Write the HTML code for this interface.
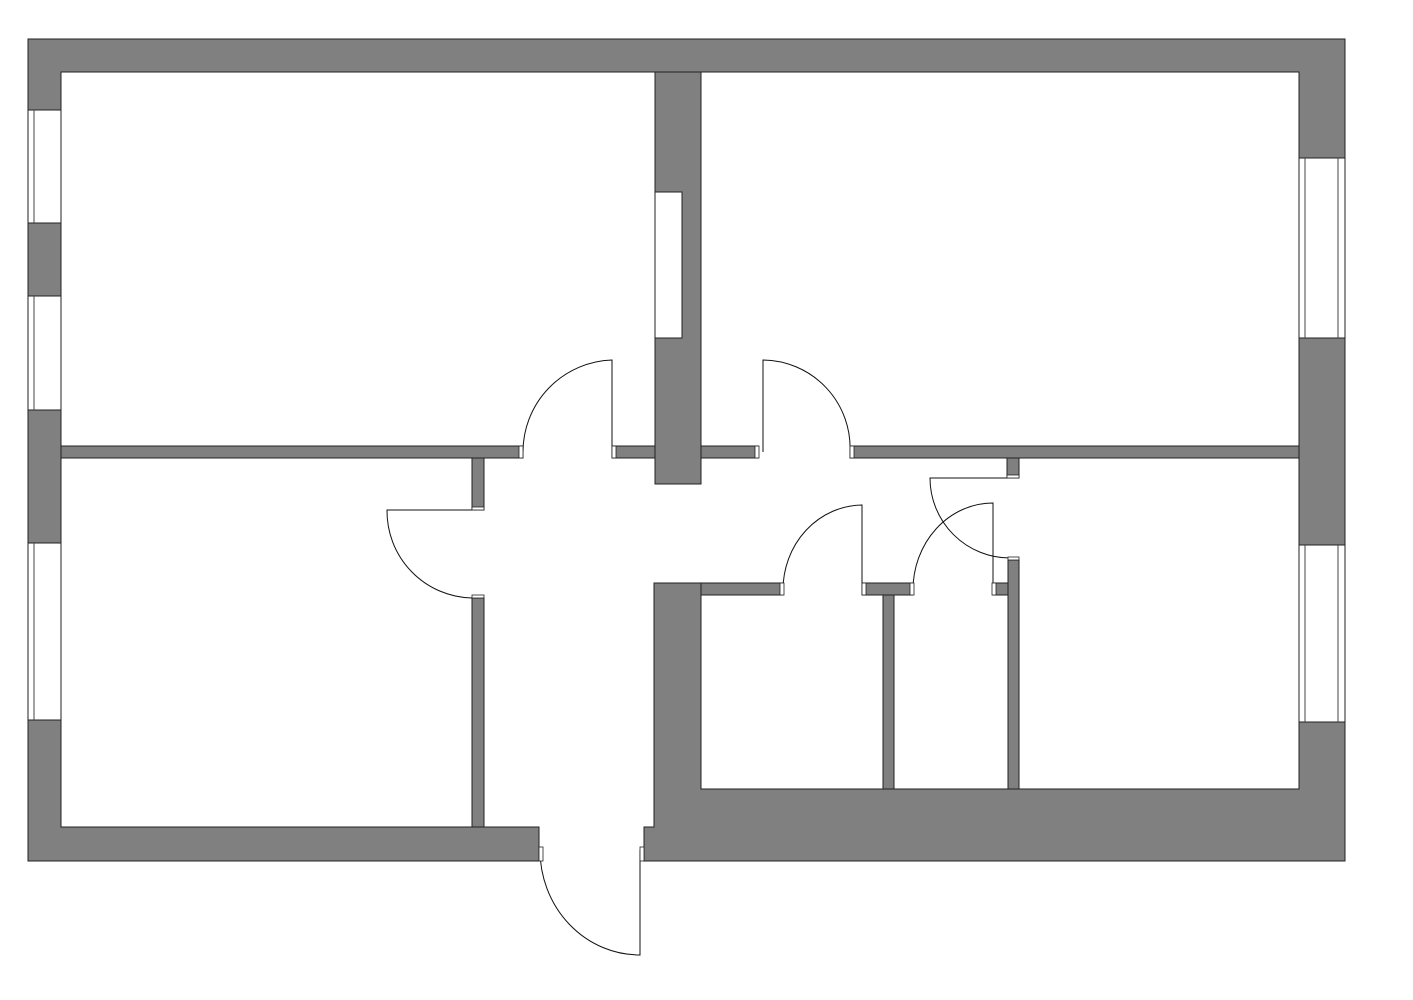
<!DOCTYPE html>
<html><head><meta charset="utf-8"><style>html,body{margin:0;padding:0;background:#fff}svg{display:block}</style></head>
<body>
<svg width="1413" height="1000" viewBox="0 0 1413 1000" xmlns="http://www.w3.org/2000/svg">
<g fill="#808080" stroke="#222" stroke-width="1">
<!-- outer walls -->
<path d="M28,39 H1345 V861 H644 V827 H654 V583 H701 V789 H1299 V72 H701 V446 H655 V72 H61 V827 H539 V861 H28 Z"/>
<!-- central column top -->
<rect x="655" y="72" width="46" height="412"/>
<!-- horizontal interior wall -->
<rect x="61" y="446" width="462" height="12"/>
<rect x="612" y="446" width="43" height="12"/>
<rect x="701" y="446" width="57" height="12"/>
<rect x="850" y="446" width="449" height="12"/>
<!-- left vertical wall -->
<rect x="472" y="458" width="12" height="52"/>
<rect x="472" y="598" width="12" height="229"/>
<!-- small stub right -->
<rect x="1007" y="458" width="12" height="20"/>
<!-- lower block walls -->
<rect x="701" y="583" width="82" height="12"/>
<rect x="862" y="583" width="51" height="12"/>
<rect x="993" y="583" width="26" height="12"/>
<rect x="1008" y="560" width="11" height="229"/>
<rect x="883" y="595" width="11" height="194"/>
</g>
<!-- windows left -->
<g fill="#fff" stroke="#222" stroke-width="1">
<rect x="28" y="110" width="33" height="113"/>
<rect x="28" y="296" width="33" height="114"/>
<rect x="28" y="543" width="33" height="177"/>
<rect x="1299" y="158" width="46" height="180"/>
<rect x="1299" y="545" width="46" height="177"/>
<rect x="655" y="192" width="27" height="146"/>
</g>
<g stroke="#444" stroke-width="1" fill="none">
<line x1="34" y1="110" x2="34" y2="223"/><line x1="34" y1="296" x2="34" y2="410"/><line x1="34" y1="543" x2="34" y2="720"/>
<line x1="1338" y1="158" x2="1338" y2="338"/><line x1="1338" y1="545" x2="1338" y2="722"/>
<line x1="1305" y1="158" x2="1305" y2="338"/><line x1="1305" y1="545" x2="1305" y2="722"/>
</g>
<!-- doors -->
<g stroke="#111" stroke-width="1" fill="none">
<path d="M612,452 V360 A92,92 0 0 0 523,452"/>
<path d="M763,452 V360 A88,88 0 0 1 850,452"/>
<path d="M472,510 H387 A87,87 0 0 0 472,598"/>
<path d="M1010,478 H930 A80,80 0 0 0 1010,558"/>
<path d="M862,590 V505 A80,85 0 0 0 783,590"/>
<path d="M993,590 V503 A80,87 0 0 0 913,590"/>
<path d="M640,850 V955 A100,105 0 0 1 540,850"/>
</g>
<g fill="#fff" stroke="#222" stroke-width="0.8">
<rect x="519" y="446" width="4" height="12"/><rect x="612" y="446" width="4" height="12"/>
<rect x="755" y="446" width="4" height="12"/><rect x="850" y="446" width="4" height="12"/>
<rect x="472" y="507" width="12" height="3"/><rect x="472" y="595" width="12" height="3"/>
<rect x="1007" y="475" width="12" height="3"/>
<rect x="780" y="583" width="4" height="12"/><rect x="862" y="583" width="4" height="12"/>
<rect x="910" y="583" width="4" height="12"/><rect x="992" y="583" width="4" height="12"/>
<rect x="1008" y="557" width="11" height="3"/>
<rect x="539" y="847" width="4" height="14"/><rect x="640" y="847" width="4" height="14"/>
</g>
</svg>
</body></html>
